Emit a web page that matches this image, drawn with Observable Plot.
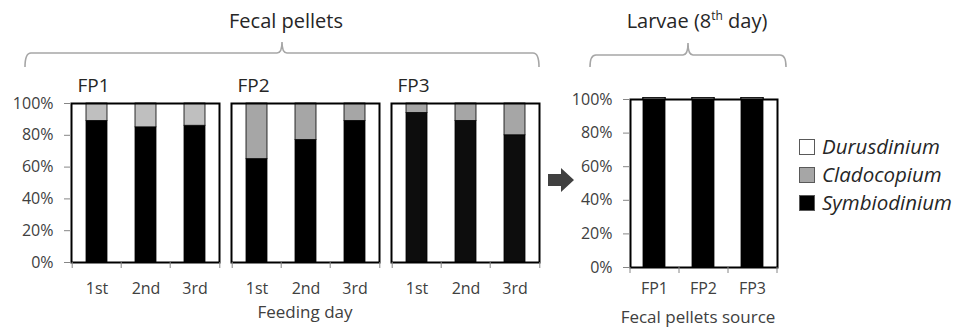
<!DOCTYPE html>
<html>
<head>
<meta charset="utf-8">
<script src="https://cdn.jsdelivr.net/npm/d3@7"></script>
<script src="https://cdn.jsdelivr.net/npm/@observablehq/plot@0.6"></script>
<style>
  html, body { margin: 0; padding: 0; background: #fff; }
  #wrap { position: relative; width: 968px; height: 334px; background: #fff; font-family: "Open Sans", sans-serif; }
  #wrap > svg, #wrap > figure { position: absolute; left: 0; top: 0; margin: 0; }
</style>
</head>
<body>
<div id="wrap"></div>
<script>
// ---- data ----
const fpSources = ["FP1", "FP2", "FP3"];
const feedingDays = ["1st", "2nd", "3rd"];
const species = ["Durusdinium", "Cladocopium", "Symbiodinium"];
const yTicks = [0, 20, 40, 60, 80, 100];

const fp1Symbiodinium = [89, 85, 86];
const fp1Cladocopium = [11, 15, 14];
const fp2Symbiodinium = [65, 77, 89];
const fp2Cladocopium = [35, 23, 11];
const fp3Symbiodinium = [94, 89, 80];
const fp3Cladocopium = [6, 11, 20];
const fpDurusdinium = [0, 0, 0];

const larvaeSymbiodinium = [100, 100, 100];
const larvaeCladocopium = [0, 0, 0];
const larvaeDurusdinium = [0, 0, 0];

// ---- build tables ----
const fpSeries = {
  FP1: {Symbiodinium: fp1Symbiodinium, Cladocopium: fp1Cladocopium, Durusdinium: fpDurusdinium},
  FP2: {Symbiodinium: fp2Symbiodinium, Cladocopium: fp2Cladocopium, Durusdinium: fpDurusdinium},
  FP3: {Symbiodinium: fp3Symbiodinium, Cladocopium: fp3Cladocopium, Durusdinium: fpDurusdinium}
};
const stackOrder = ["Symbiodinium", "Cladocopium", "Durusdinium"];
const fecalRows = [];
for (const src of fpSources) for (const sp of stackOrder) feedingDays.forEach((day, i) => {
  fecalRows.push({source: src, day, species: sp, value: fpSeries[src][sp][i]});
});
const larvaeSeries = {Symbiodinium: larvaeSymbiodinium, Cladocopium: larvaeCladocopium, Durusdinium: larvaeDurusdinium};
const larvaeRows = [];
for (const sp of stackOrder) fpSources.forEach((src, i) => {
  larvaeRows.push({source: src, species: sp, value: larvaeSeries[sp][i]});
});

// ---- styles ----
const speciesColor = {Durusdinium: "#ffffff", Cladocopium: "#a6a6a6", Symbiodinium: "#000000"};
const fillOf = d => (d.species === "Cladocopium" && d.source === "FP1") ? "#bfbfbf"
  : (d.species === "Symbiodinium" && d.source === "FP3") ? "#0d0d0d" : speciesColor[d.species];
const textColor = "#404040";
const axisColor = "#868686";
const pct = d => `${d}%`;

const wrap = document.getElementById("wrap");

// ---- fecal pellets panels ----
const fecal = Plot.plot({
  width: 968, height: 334,
  marginLeft: 70, marginRight: 427, marginTop: 103, marginBottom: 72,
  style: {fontFamily: "Open Sans", fontSize: "16px", color: textColor, background: "transparent", overflow: "visible"},
  fx: {domain: fpSources, paddingInner: 0.0745, paddingOuter: 0, axis: null, label: null},
  x: {domain: feedingDays, paddingInner: 0.58, paddingOuter: 0.29, axis: null, label: null},
  y: {domain: [0, 100], axis: null, label: null},
  marks: [
    Plot.barY(fecalRows, {fx: "source", x: "day", y: "value", fill: fillOf, stroke: "#000", strokeWidth: 0.8, order: stackOrder, z: "species"}),
    Plot.frame({stroke: "#000", strokeWidth: 2}),
    Plot.axisY({ticks: yTicks, tickFormat: pct, tickSize: 7, tickPadding: 11, stroke: axisColor, fill: textColor, fontSize: 16, label: null}),
    Plot.axisX({tickSize: 0, tickPadding: 20, fill: textColor, fontSize: 16, label: null}),
    Plot.ruleX(feedingDays, {x: d => d, dx: -24.8, insetTop: 159, insetBottom: -6, stroke: axisColor}),
    Plot.ruleX(feedingDays.slice(-1), {x: d => d, dx: 24.8, insetTop: 159, insetBottom: -6, stroke: axisColor}),
    Plot.text(fpSources, {fx: d => d, text: d => d, frameAnchor: "top-left", textAnchor: "start", lineAnchor: "middle", dx: 6, dy: -17.5, fontSize: 19, fill: "#262626"})
  ]
});
wrap.appendChild(fecal);

// ---- larvae panel ----
const larvae = Plot.plot({
  width: 968, height: 334,
  marginLeft: 630, marginRight: 191, marginTop: 99, marginBottom: 67,
  style: {fontFamily: "Open Sans", fontSize: "16px", color: textColor, background: "transparent", overflow: "visible"},
  x: {domain: fpSources, paddingInner: 0.55, paddingOuter: 0.275, axis: null, label: null},
  y: {domain: [0, 100], axis: null, label: null},
  marks: [
    Plot.barY(larvaeRows, {x: "source", y: "value", fill: d => speciesColor[d.species], stroke: "#000", strokeWidth: 0.8, order: stackOrder, z: "species", insetTop: -1.5}),
    Plot.frame({stroke: "#000", strokeWidth: 2}),
    Plot.axisY({ticks: yTicks, tickFormat: pct, tickSize: 7, tickPadding: 11, stroke: axisColor, fill: textColor, fontSize: 16, label: null}),
    Plot.axisX({tickSize: 0, tickPadding: 15, fill: textColor, fontSize: 16, label: null}),
    Plot.ruleX(fpSources, {x: d => d, dx: -24.5, insetTop: 168, insetBottom: -6, stroke: axisColor}),
    Plot.ruleX(fpSources.slice(-1), {x: d => d, dx: 24.5, insetTop: 168, insetBottom: -6, stroke: axisColor})
  ]
});
wrap.appendChild(larvae);

// ---- annotations: titles, braces, arrow, legend ----
const over = d3.select(wrap).append("svg")
  .attr("width", 968).attr("height", 334)
  .style("position", "absolute").style("left", 0).style("top", 0)
  .style("font-family", "Open Sans").style("pointer-events", "none");

over.append("text").attr("x", 286).attr("y", 28).attr("text-anchor", "middle")
  .attr("font-size", 20).attr("fill", "#262626").text("Fecal pellets");
const lt = over.append("text").attr("x", 697).attr("y", 28).attr("text-anchor", "middle")
  .attr("font-size", 20).attr("fill", "#262626");
lt.append("tspan").text("Larvae (8");
lt.append("tspan").attr("font-size", 12).attr("dy", -8).text("th");
lt.append("tspan").attr("dy", 8).text(" day)");

function brace(x0, x1, xm, yLine, yTip, yEnd) {
  const r = 6;
  return `M${x0},${yEnd} Q${x0},${yLine} ${x0 + r},${yLine} L${xm - 5},${yLine} Q${xm},${yLine} ${xm},${yTip} Q${xm},${yLine} ${xm + 5},${yLine} L${x1 - r},${yLine} Q${x1},${yLine} ${x1},${yEnd}`;
}
over.append("path").attr("d", brace(25, 539, 282, 53, 42, 67)).attr("fill", "none").attr("stroke", "#a6a6a6").attr("stroke-width", 1.6);
over.append("path").attr("d", brace(590, 786, 688, 55, 43, 67)).attr("fill", "none").attr("stroke", "#a6a6a6").attr("stroke-width", 1.6);

// arrow
over.append("path").attr("d", "M548,174 L561,174 L561,168 L574,180 L561,192 L561,186 L548,186 Z").attr("fill", "#404040");

// axis titles
over.append("text").attr("x", 305).attr("y", 318).attr("text-anchor", "middle").attr("font-size", 17).attr("fill", textColor).text("Feeding day");
over.append("text").attr("x", 698).attr("y", 323).attr("text-anchor", "middle").attr("font-size", 17).attr("fill", textColor).text("Fecal pellets source");

// legend
const legendY = [147, 175, 203];
species.forEach((sp, i) => {
  over.append("rect").attr("x", 799.5).attr("y", legendY[i] - 7.5).attr("width", 15).attr("height", 15)
    .attr("fill", speciesColor[sp]).attr("stroke", "#595959").attr("stroke-width", 1);
  over.append("text").attr("x", 822).attr("y", legendY[i] + 7).attr("font-size", 20.5).attr("font-style", "italic")
    .attr("fill", "#262626").text(sp);
});
</script>
</body>
</html>
